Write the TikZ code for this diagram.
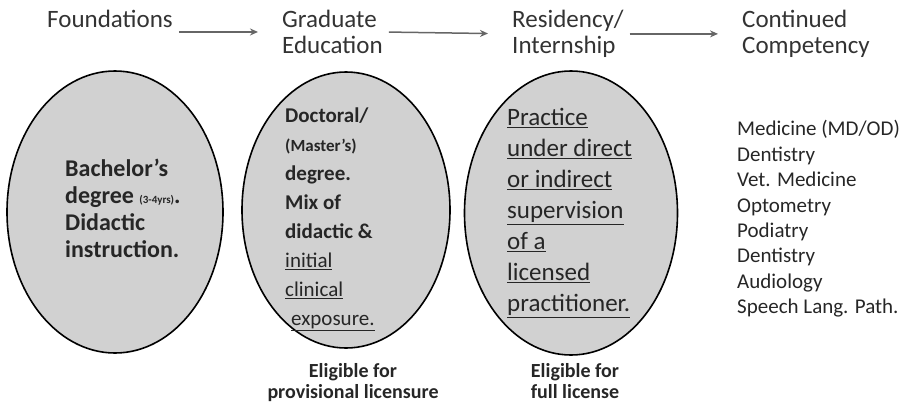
\documentclass[tikz,border=0pt]{standalone}
\usepackage{fontspec}
\setmainfont{Carlito}
\usetikzlibrary{shapes.geometric,arrows.meta}
\begin{document}
\begin{tikzpicture}[x=1pt,y=-1pt]
\tikzstyle{every node}=[inner sep=0pt,text=black!85]
\tikzstyle{head}=[anchor=north west,align=left,text=black!80,font=\fontsize{25}{26}\selectfont]
\tikzstyle{oval}=[ellipse,draw=black,line width=1.6pt,fill=black!18]
\tikzstyle{flow}=[-{Stealth[length=8pt,width=7pt]},line width=1.5pt,draw=black!60,shorten <=6pt,shorten >=24pt]
\tikzstyle{note}=[anchor=north,align=center,font=\bfseries\fontsize{20}{21}\selectfont]
\useasboundingbox (0,0) rectangle (905,410);
\node[head](found) at (47,10) {Foundations};
\node[head](grad) at (282,10) {Graduate\\Education};
\node[head](res) at (512,10) {Residency/\\Internship};
\node[head](cont) at (742,10) {Continued\\Competency};
\draw[flow] (found.east |- grad.west) -- (grad.west);
\draw[flow] (grad.east) -- (res.west);
\draw[flow] (res.east) -- (cont.west);
\node[oval,minimum width=216,minimum height=282](e1) at (115,212) {};
\node[oval,minimum width=208,minimum height=276](e2) at (346,210) {};
\node[oval,minimum width=213,minimum height=284](e3) at (571,213) {};
\node[anchor=west,align=left,font=\bfseries\fontsize{24}{27}\selectfont](t1) at (65,208)
  {Bachelor’s\\degree {\fontsize{11}{11}\selectfont(3-4yrs)}.\\Didactic\\instruction.};
\node[anchor=west,align=left,font=\bfseries\fontsize{21}{29}\selectfont](t2) at (285,219)
  {Doctoral/\\{\fontsize{17}{17}\selectfont(Master’s)}\\degree.\\Mix of\\didactic \&\\{\mdseries\underline{initial}}\\{\mdseries\underline{clinical}}\\{\mdseries\hspace*{6pt}\underline{exposure.}}};
\node[anchor=west,align=left,font=\fontsize{25}{31}\selectfont](t3) at (507,213)
  {\underline{Practice}\\\underline{under direct}\\\underline{or indirect}\\\underline{supervision}\\\underline{of a}\\\underline{licensed}\\\underline{practitioner.}};
\node[note](n2) at (353,363) {Eligible for\\provisional licensure};
\node[note](n3) at (575,363) {Eligible for\\full license};
\node[anchor=west,align=left,font=\fontsize{21}{25.4}\selectfont](list) at (737,219)
  {Medicine (MD/OD)\\Dentistry\\Vet. Medicine\\Optometry\\Podiatry\\Dentistry\\Audiology\\Speech Lang. Path.};
\end{tikzpicture}
\end{document}
